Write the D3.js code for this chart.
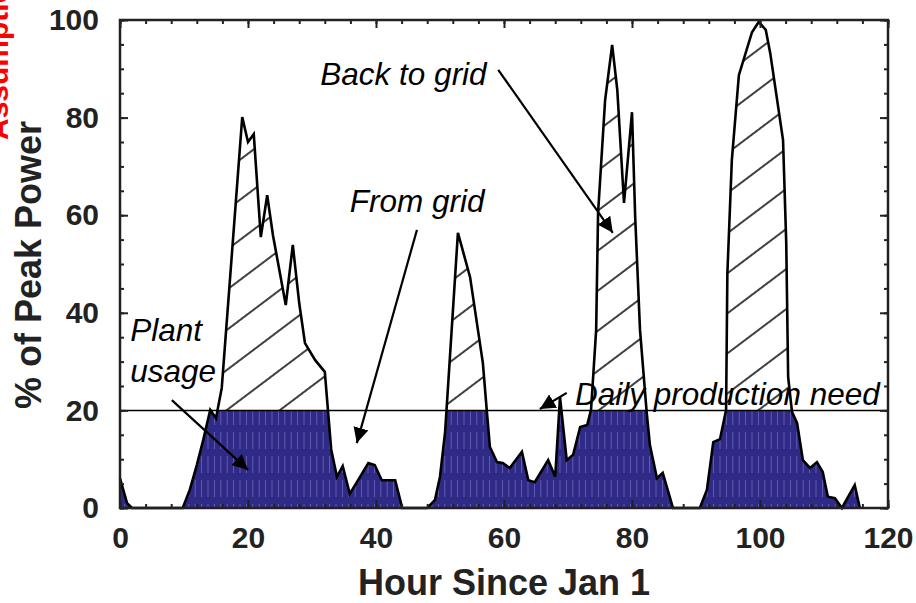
<!DOCTYPE html>
<html>
<head>
<meta charset="utf-8">
<script src="https://cdn.jsdelivr.net/npm/d3@7"></script>
<style>
  body { margin: 0; background: #fff; }
  svg { display: block; font-family: "Liberation Sans", Arial, sans-serif; }
</style>
</head>
<body>
<div id="chart"></div>
<script>
// production curve (hour, % of peak power)
const hours = [0, 1.1, 1.9, 9.8, 10.9, 12, 13, 14.1, 15, 15.9, 19.1, 20, 20.9, 22, 23, 23.9,
  25.9, 27, 28, 28.9, 30.5, 32, 33, 33.9, 34.8, 35.9, 37.2, 38.8, 39.8, 40.9, 43, 44.1,
  48, 49.2, 50, 50.8, 52.8, 54.7, 56.7, 57.3, 57.8, 58.9, 59.8, 60.9, 62.8, 63.8, 64.8,
  66.9, 68, 68.75, 69.8, 70.8, 71.9, 73, 73.6, 74.4, 74.7, 75.8, 76.9, 77.7, 78.75, 80,
  80.5, 81.25, 82.3, 82.8, 83.9, 84.8, 85.9, 86.4, 90.6, 91.7, 92.7, 93.75, 94.7, 94.9,
  95.6, 96.7, 98.75, 99.8, 100.9, 101.6, 103.6, 104.1, 104.4, 105, 105.8, 106.7, 107.8,
  108.9, 109.8, 110.6, 111.7, 112.8, 114.8, 115.6];
const power = [6.1, 1, 0, 0, 3.7, 8.8, 13.9, 20.1, 18.4, 24.6, 80.1, 75, 76.6, 55.5, 64.1, 55.9,
  41.6, 53.9, 42, 33.8, 30.3, 27.9, 12, 6.4, 8.6, 2.9, 5.7, 9.2, 8.8, 5.7, 5.7, 0,
  0, 1.6, 6.4, 15.6, 56.4, 47.3, 29.7, 20.1, 12.5, 9.4, 9.2, 8.2, 11.5, 5.7, 5.3,
  9.8, 6.4, 22.7, 9.8, 10.9, 16.6, 17, 20.1, 36.5, 60.5, 83.6, 94.9, 85.7, 62.5, 81.1,
  59.6, 36.5, 19.5, 12.9, 6.1, 7.2, 2.3, 0, 0, 3.7, 13.5, 14.1, 20.1, 48,
  71.3, 88.7, 97.5, 99.6, 98, 93.2, 75.4, 54.3, 26.8, 19.7, 17.4, 9.8, 8.2,
  9.4, 7.4, 2.3, 2, 0, 4.7, 0];

const need = 20; // daily production need
const xTicks = [0, 20, 40, 60, 80, 100, 120];
const xMinor = d3.range(0, 121, 4);
const yTicks = [0, 20, 40, 60, 80, 100];
const yMinor = d3.range(0, 101, 5);

// annotations: text anchor and arrow in data units
const notes = [
  { lines: ["Back to grid"], x: 31.3, y: 86.7 },
  { lines: ["From grid"], x: 35.9, y: 60.7 },
  { lines: ["Plant", "usage"], x: 1.6, y: 34.2 },
  { lines: ["Daily production need"], x: 71.1, y: 21.2 }
];
const arrows = [
  { from: [59.1, 89.8], to: [77.0, 56.4] },
  { from: [46.4, 57], to: [37.0, 13.3] },
  { from: [8.1, 22.1], to: [20.0, 7.8] },
  { from: [69.8, 23.6], to: [65.6, 20.3] }
];

const data = hours.map((h, i) => ({ h, v: power[i] }));

const width = 916, height = 603;
const margin = { top: 20, right: 28, bottom: 95, left: 120 };

const x = d3.scaleLinear().domain([0, 120]).range([margin.left, width - margin.right]);
const y = d3.scaleLinear().domain([0, 100]).range([height - margin.bottom, margin.top]);

const svg = d3.select("#chart").append("svg")
  .attr("width", width).attr("height", height);

const defs = svg.append("defs");

// dark blue fill with faint vertical streaks
const blue = defs.append("pattern").attr("id", "usage")
  .attr("patternUnits", "userSpaceOnUse").attr("width", 6.4).attr("height", 24);
blue.append("rect").attr("width", 6.4).attr("height", 24).attr("fill", "#2f2a86");
blue.append("line").attr("x1", 3.2).attr("x2", 3.2).attr("y1", 0).attr("y2", 17)
  .attr("stroke", "#7d76cc").attr("stroke-width", 0.9).attr("opacity", 0.75);

// diagonal hatch above the need line
const hatch = defs.append("pattern").attr("id", "hatch")
  .attr("patternUnits", "userSpaceOnUse").attr("width", 40).attr("height", 32)
  .attr("patternTransform", "rotate(-37)");
hatch.append("line").attr("x1", 0).attr("x2", 40).attr("y1", 16).attr("y2", 16)
  .attr("stroke", "#000").attr("stroke-width", 1.5);

defs.append("clipPath").attr("id", "below")
  .append("rect").attr("x", x(0)).attr("y", y(need))
  .attr("width", x(120) - x(0)).attr("height", y(0) - y(need));
defs.append("clipPath").attr("id", "above")
  .append("rect").attr("x", x(0)).attr("y", y(100))
  .attr("width", x(120) - x(0)).attr("height", y(need) - y(100));

const area = d3.area().x(d => x(d.h)).y0(y(0)).y1(d => y(d.v));
const line = d3.line().x(d => x(d.h)).y(d => y(d.v));

svg.append("path").datum(data).attr("d", area)
  .attr("fill", "url(#usage)").attr("clip-path", "url(#below)");
svg.append("path").datum(data).attr("d", area)
  .attr("fill", "url(#hatch)").attr("clip-path", "url(#above)");

// need line
svg.append("line")
  .attr("x1", x(0)).attr("x2", x(120)).attr("y1", y(need)).attr("y2", y(need))
  .attr("stroke", "#000").attr("stroke-width", 1.5);

svg.append("path").datum(data).attr("d", line)
  .attr("fill", "none").attr("stroke", "#000").attr("stroke-width", 2.6)
  .attr("stroke-linejoin", "miter").attr("stroke-miterlimit", 3);

// axes with inward ticks on all four sides
function ticks(g) {
  g.select(".domain").remove();
  g.selectAll(".tick line").attr("stroke", "#222").attr("stroke-width", 2);
  g.selectAll(".tick text").attr("fill", "#222")
    .style("font-size", "30px").style("font-weight", "bold");
}
const fmt = d3.format("d");
svg.append("g").attr("transform", `translate(0,${y(0)})`)
  .call(d3.axisBottom(x).tickValues(xTicks).tickFormat(fmt).tickSize(-8).tickPadding(19))
  .call(ticks);
svg.append("g").attr("transform", `translate(0,${y(0)})`)
  .call(d3.axisBottom(x).tickValues(xMinor).tickFormat("").tickSize(-4)).call(ticks);
svg.append("g").attr("transform", `translate(0,${y(100)})`)
  .call(d3.axisTop(x).tickValues(xTicks).tickFormat("").tickSize(-8)).call(ticks);
svg.append("g").attr("transform", `translate(0,${y(100)})`)
  .call(d3.axisTop(x).tickValues(xMinor).tickFormat("").tickSize(-4)).call(ticks);
svg.append("g").attr("transform", `translate(${x(0)},0)`)
  .call(d3.axisLeft(y).tickValues(yTicks).tickFormat(fmt).tickSize(-8).tickPadding(21))
  .call(ticks);
svg.append("g").attr("transform", `translate(${x(0)},0)`)
  .call(d3.axisLeft(y).tickValues(yMinor).tickFormat("").tickSize(-4)).call(ticks);
svg.append("g").attr("transform", `translate(${x(120)},0)`)
  .call(d3.axisRight(y).tickValues(yTicks).tickFormat("").tickSize(-8)).call(ticks);
svg.append("g").attr("transform", `translate(${x(120)},0)`)
  .call(d3.axisRight(y).tickValues(yMinor).tickFormat("").tickSize(-4)).call(ticks);

svg.append("rect")
  .attr("x", x(0)).attr("y", y(100))
  .attr("width", x(120) - x(0)).attr("height", y(0) - y(100))
  .attr("fill", "none").attr("stroke", "#222").attr("stroke-width", 2.5);

// axis titles
svg.append("text")
  .attr("x", 504).attr("y", 595)
  .attr("text-anchor", "middle").attr("fill", "#222")
  .style("font-size", "36px").style("font-weight", "bold")
  .text("Hour Since Jan 1");
svg.append("text")
  .attr("transform", `translate(41,${(y(0) + y(100)) / 2 + 1}) rotate(-90)`)
  .attr("text-anchor", "middle").attr("fill", "#222")
  .style("font-size", "36px").style("font-weight", "bold")
  .text("% of Peak Power");
svg.append("text")
  .attr("transform", "translate(8,140) rotate(-90)")
  .attr("fill", "#f00")
  .style("font-size", "30px").style("font-weight", "bold")
  .text("Assumptions");

// annotations
defs.append("marker").attr("id", "head")
  .attr("viewBox", "0 0 10 10").attr("refX", 10).attr("refY", 5)
  .attr("markerWidth", 7).attr("markerHeight", 7).attr("markerUnits", "strokeWidth")
  .attr("orient", "auto")
  .append("path").attr("d", "M0,0L10,5L0,10Z").attr("fill", "#000");

svg.append("g").selectAll("line").data(arrows).join("line")
  .attr("x1", d => x(d.from[0])).attr("y1", d => y(d.from[1]))
  .attr("x2", d => x(d.to[0])).attr("y2", d => y(d.to[1]))
  .attr("stroke", "#000").attr("stroke-width", 2.2)
  .attr("marker-end", "url(#head)");

const label = svg.append("g").selectAll("text").data(notes).join("text")
  .attr("x", d => x(d.x)).attr("y", d => y(d.y))
  .attr("fill", "#000")
  .style("font-size", "31.5px").style("font-style", "italic");
label.selectAll("tspan").data(d => d.lines.map((t, i) => ({ t, i, x: d.x }))).join("tspan")
  .attr("x", d => x(d.x)).attr("dy", d => d.i ? 41 : 0)
  .text(d => d.t);
</script>
</body>
</html>
